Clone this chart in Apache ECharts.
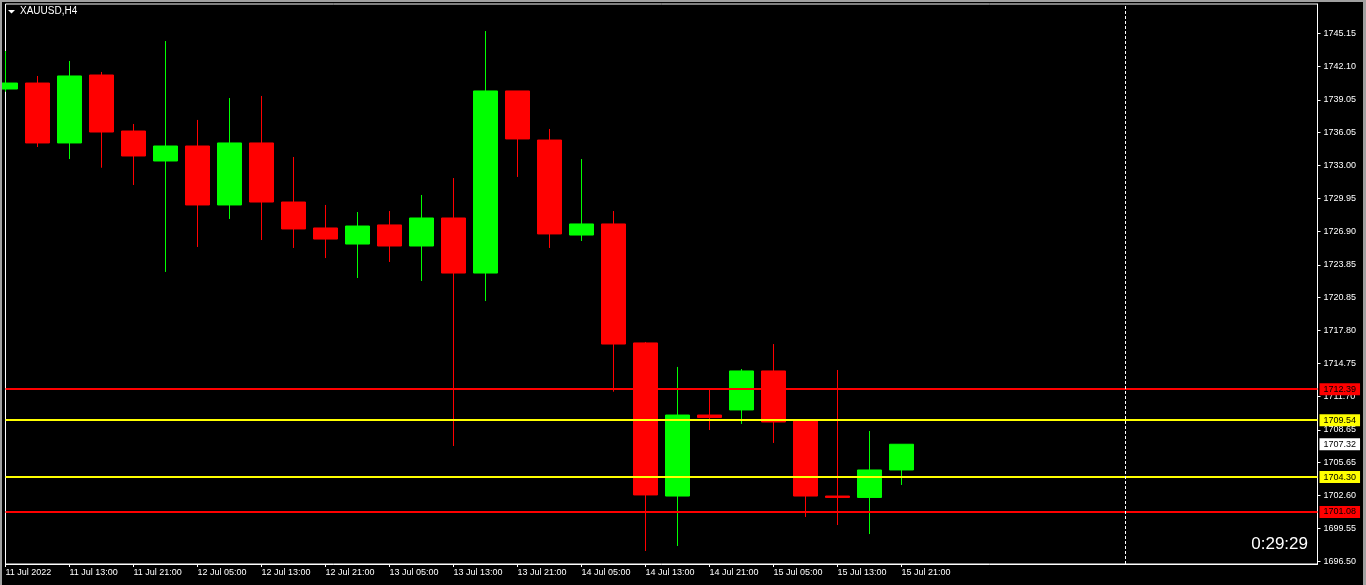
<!DOCTYPE html>
<html>
<head>
<meta charset="utf-8">
<script src="https://cdn.jsdelivr.net/npm/echarts@6/dist/echarts.min.js"></script>
<style>
html,body{margin:0;padding:0;background:#000;}
#chart{width:1366px;height:585px;}
</style>
</head>
<body>
<div id="chart"></div>
<script>
// ---- data ----
const symbolTitle = 'XAUUSD,H4';
const categories = [
  '11 Jul 05:00','11 Jul 09:00','11 Jul 13:00','11 Jul 17:00','11 Jul 21:00',
  '12 Jul 01:00','12 Jul 05:00','12 Jul 09:00','12 Jul 13:00','12 Jul 17:00','12 Jul 21:00',
  '13 Jul 01:00','13 Jul 05:00','13 Jul 09:00','13 Jul 13:00','13 Jul 17:00','13 Jul 21:00',
  '14 Jul 01:00','14 Jul 05:00','14 Jul 09:00','14 Jul 13:00','14 Jul 17:00','14 Jul 21:00',
  '15 Jul 01:00','15 Jul 05:00','15 Jul 09:00','15 Jul 13:00','15 Jul 17:00','15 Jul 21:00'
];
const emptySlots = 13;
const opens  = [1740.04,1740.59,1735.07,1741.33,1736.17,1733.41,1734.79,1729.36,1735.07,1729.63,1727.24,1725.76,1727.52,1725.58,1728.16,1723.09,1739.86,1735.34,1726.59,1727.61,1716.65,1702.55,1710.01,1710.48,1714.07,1709.55,1702.55,1702.42,1704.95];
const closes = [1740.59,1735.07,1741.24,1736.08,1733.87,1734.79,1729.36,1735.07,1729.63,1727.15,1726.22,1727.42,1725.58,1728.16,1723.09,1739.86,1735.44,1726.69,1727.61,1716.55,1702.65,1710.01,1709.78,1714.07,1709.37,1702.55,1702.42,1704.95,1707.32];
const lows   = [1739.79,1734.70,1733.59,1732.79,1731.20,1723.19,1725.49,1728.07,1726.13,1725.40,1724.47,1722.63,1724.11,1722.36,1707.16,1720.51,1731.94,1725.40,1726.04,1712.16,1697.49,1697.95,1708.63,1709.19,1707.44,1700.62,1699.88,1699.05,1703.57];
const highs  = [1743.54,1741.24,1742.62,1741.61,1736.82,1744.46,1737.19,1739.21,1739.40,1733.78,1729.36,1728.71,1728.80,1730.28,1731.84,1745.38,1739.86,1736.36,1733.59,1728.80,1716.74,1714.44,1712.41,1714.25,1716.55,1709.55,1714.16,1708.54,1707.32];
const xTickIndex  = [0,2,4,6,8,10,12,14,16,18,20,22,24,26,28];
const xTickLabels = ['11 Jul 2022','11 Jul 13:00','11 Jul 21:00','12 Jul 05:00','12 Jul 13:00','12 Jul 21:00','13 Jul 05:00','13 Jul 13:00','13 Jul 21:00','14 Jul 05:00','14 Jul 13:00','14 Jul 21:00','15 Jul 05:00','15 Jul 13:00','15 Jul 21:00'];
const yTickValues = [1696.50,1699.55,1702.60,1705.65,1708.65,1711.70,1714.75,1717.80,1720.85,1723.85,1726.90,1729.95,1733.00,1736.05,1739.05,1742.10,1745.15];
const redLevels = [1712.39, 1701.08];
const yellowLevels = [1709.54, 1704.30];
const bidPrice = 1707.32;
const shiftIndex = 35;
const countdown = '0:29:29';
const yMin = 1696.29, yMax = 1747.87;

// ---- build ----
const axisData = categories.concat(Array(emptySlots).fill(''));
const candleData = opens.map((o, i) => [o, closes[i], lows[i], highs[i]]);
const tickMap = {};
xTickIndex.forEach((idx, i) => { tickMap[idx] = xTickLabels[i]; });
const showTick = (idx) => Object.prototype.hasOwnProperty.call(tickMap, idx);
const FONT = 'Liberation Sans, Arial, sans-serif';

function levelLine(v, lineColor, boxColor) {
  return {
    yAxis: v,
    lineStyle: { color: lineColor, width: 2, type: 'solid' },
    label: {
      show: true, position: 'end', distance: 2,
      formatter: v.toFixed(2),
      backgroundColor: boxColor, color: '#000',
      fontFamily: FONT, fontSize: 9,
      padding: [2, 4, 1, 4], lineHeight: 9
    }
  };
}

const markData = [];
redLevels.forEach(v => markData.push(levelLine(v, '#ff0000', '#ff0000')));
yellowLevels.forEach(v => markData.push(levelLine(v, '#ffff00', '#ffff00')));
markData.push(levelLine(bidPrice, 'rgba(0,0,0,0)', '#ffffff'));
markData.push({
  xAxis: shiftIndex,
  lineStyle: { color: '#ffffff', width: 1, type: [3, 2] },
  label: { show: false }
});

const chart = echarts.init(document.getElementById('chart'), null, { renderer: 'canvas' });
chart.setOption({
  animation: false,
  backgroundColor: '#000',
  grid: {
    left: 5.5, right: 48.5, top: 4, bottom: 21,
    show: true, borderColor: '#ffffff', borderWidth: 1, backgroundColor: '#000'
  },
  xAxis: {
    type: 'category',
    data: axisData,
    boundaryGap: false,
    axisLine: { show: true, lineStyle: { color: '#ffffff', width: 1 } },
    axisTick: { show: true, length: 3, interval: showTick, lineStyle: { color: '#ffffff' } },
    axisLabel: {
      show: true, interval: showTick, align: 'left', margin: 4,
      color: '#ffffff', fontSize: 9, fontFamily: FONT,
      formatter: (val, idx) => tickMap[idx] || ''
    },
    splitLine: { show: false }
  },
  yAxis: {
    type: 'value',
    position: 'right',
    min: yMin, max: yMax,
    scale: true,
    axisLine: { show: true, lineStyle: { color: '#ffffff', width: 1 } },
    axisTick: { show: true, length: 3, customValues: yTickValues, lineStyle: { color: '#ffffff' } },
    axisLabel: {
      show: true, customValues: yTickValues, margin: 6,
      color: '#ffffff', fontSize: 9, fontFamily: FONT,
      formatter: (v) => Number(v).toFixed(2)
    },
    splitLine: { show: false }
  },
  series: [{
    type: 'candlestick',
    data: candleData,
    barWidth: 24,
    clip: true,
    itemStyle: {
      color: '#00ff00', color0: '#ff0000',
      borderColor: '#00ff00', borderColor0: '#ff0000', borderWidth: 1
    },
    markLine: {
      symbol: ['none', 'none'],
      silent: true,
      animation: false,
      data: markData
    }
  }],
  graphic: [
    { type: 'rect', shape: { x: 0, y: 0, width: 1366, height: 2 }, style: { fill: '#a0a0a0' }, z: 100 },
    { type: 'rect', shape: { x: 0, y: 0, width: 2, height: 585 }, style: { fill: '#a0a0a0' }, z: 100 },
    { type: 'rect', shape: { x: 1363, y: 0, width: 3, height: 585 }, style: { fill: '#a0a0a0' }, z: 100 },
    { type: 'polygon', shape: { points: [[8, 10], [15, 10], [11.5, 13.5]] }, style: { fill: '#ffffff' }, z: 100 },
    { type: 'text', left: 20, top: 6.5, z: 100,
      style: { text: symbolTitle, fill: '#ffffff', font: '10px ' + FONT } },
    { type: 'text', right: 58, top: 536, z: 100,
      style: { text: countdown, fill: '#ffffff', font: '17px ' + FONT } }
  ]
});
</script>
</body>
</html>
